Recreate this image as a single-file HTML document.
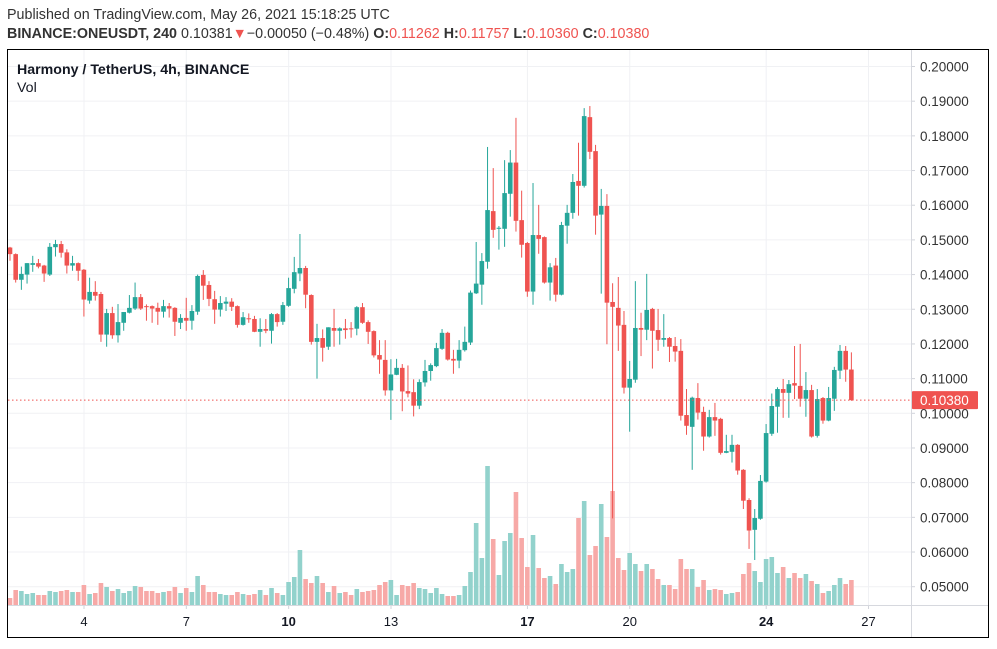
<!DOCTYPE html>
<html><head><meta charset="utf-8"><style>
body{margin:0;background:#fff;width:997px;height:644px;overflow:hidden;font-family:"Liberation Sans",sans-serif}
svg text{font-family:"Liberation Sans",sans-serif}
</style></head><body>
<svg id="c" width="997" height="644" xmlns="http://www.w3.org/2000/svg">
<text x="7" y="19" font-size="14.3" fill="#333">Published on TradingView.com, May 26, 2021 15:18:25 UTC</text>
<text x="7" y="38" font-size="14.3" fill="#333"><tspan font-weight="bold">BINANCE:ONEUSDT, 240</tspan> 0.10381<tspan fill="#ef5350">▼</tspan>−0.00050 (−0.48%) <tspan font-weight="bold">O:</tspan><tspan fill="#ef5350">0.11262</tspan> <tspan font-weight="bold">H:</tspan><tspan fill="#ef5350">0.11757</tspan> <tspan font-weight="bold">L:</tspan><tspan fill="#ef5350">0.10360</tspan> <tspan font-weight="bold">C:</tspan><tspan fill="#ef5350">0.10380</tspan></text>
<g id="grid"></g><g id="vol"></g><g id="candles"></g><g id="axes"></g>
<rect x="7.5" y="49.5" width="981" height="588" fill="none" stroke="#000" stroke-width="1"/>
<text x="17" y="74" font-size="14.2" font-weight="bold" fill="#131722">Harmony / TetherUS, 4h, BINANCE</text>
<text x="17" y="92" font-size="14.2" fill="#131722">Vol</text>
</svg>
<script>
const opens=[.1478,.1459,.1385,.1400,.1428,.1433,.1426,.1400,.1479,.1488,.1464,.1426,.1433,.1414,.1325,.1350,.1344,.1227,.1289,.1225,.1261,.1290,.1302,.1335,.1309,.1309,.1304,.1293,.1309,.1304,.1261,.1275,.1267,.1293,.1399,.1370,.1329,.1299,.1316,.1322,.1309,.1255,.1274,.1272,.1235,.1243,.1238,.1286,.1264,.1310,.1359,.1403,.1419,.1341,.1206,.1217,.1192,.1246,.1238,.1245,.1245,.1244,.1306,.1263,.1237,.1168,.1154,.1066,.1111,.1131,.1064,.1061,.1022,.1089,.1122,.1136,.1186,.1232,.1157,.1152,.1182,.1204,.1346,.1371,.1437,.1583,.1532,.1532,.1633,.1723,.1557,.1491,.1351,.1514,.1508,.1377,.1426,.1342,.1541,.1578,.1670,.1656,.1854,.1756,.1573,.1598,.1321,.1304,.1255,.1074,.1097,.1246,.1241,.1301,.1240,.1212,.1217,.1194,.1180,.0995,.0961,.1044,.1004,.0933,.0989,.0984,.0886,.0889,.0909,.0837,.0750,.0664,.0696,.0803,.0941,.1019,.1070,.1059,.1087,.1079,.1042,.1067,.0935,.1044,.0979,.1042,.1123,.1180,.11262];
const highs=[.1480,.1461,.1423,.1433,.1454,.1445,.1428,.1491,.1500,.1497,.1473,.1454,.1435,.1416,.1391,.1381,.1350,.1301,.1307,.1315,.1292,.1341,.1377,.1344,.1314,.1311,.1319,.1327,.1318,.1306,.1286,.1333,.1312,.1400,.1413,.1381,.1353,.1338,.1335,.1332,.1311,.1292,.1288,.1281,.1274,.1272,.1289,.1289,.1321,.1391,.1451,.1517,.1425,.1343,.1258,.1242,.1248,.1301,.1248,.1272,.1263,.1309,.1318,.1268,.1239,.1211,.1211,.1156,.1157,.1142,.1138,.1098,.1098,.1154,.1144,.1203,.1243,.1235,.1183,.1211,.1250,.1354,.1494,.1462,.1768,.1707,.1540,.1730,.1759,.1852,.1642,.1494,.1664,.1601,.1510,.1433,.1448,.1552,.1601,.1690,.1780,.1880,.1886,.1774,.1647,.1632,.1375,.1393,.1295,.1151,.1381,.1290,.1402,.1304,.1301,.1286,.1220,.1220,.1214,.1070,.1048,.1087,.1019,.1010,.1030,.0987,.0938,.0938,.0911,.0839,.0755,.0724,.0822,.0969,.1057,.1075,.1099,.1096,.1194,.1200,.1119,.1082,.1070,.1047,.1076,.1134,.1197,.1194,.11757];
const lows=[.1440,.1377,.1356,.1374,.1408,.1418,.1379,.1396,.1452,.1449,.1403,.1411,.1382,.1279,.1316,.1325,.1206,.1192,.1215,.1204,.1238,.1288,.1298,.1298,.1267,.1261,.1255,.1276,.1276,.1223,.1243,.1238,.1241,.1284,.1327,.1309,.1258,.1279,.1295,.1295,.1247,.1253,.1261,.1234,.1192,.1231,.1201,.1250,.1255,.1307,.1346,.1381,.1303,.1198,.1100,.1149,.1183,.1192,.1198,.1215,.1218,.1225,.1258,.1200,.1161,.1114,.1051,.0981,.1110,.1006,.1046,.0991,.1012,.1077,.1094,.1133,.1183,.1152,.1114,.1130,.1178,.1197,.1344,.1313,.1417,.1506,.1472,.1480,.1567,.1524,.1449,.1336,.1313,.1460,.1374,.1325,.1322,.1340,.1489,.1561,.1570,.1651,.1733,.1515,.1345,.1199,.0697,.1180,.1057,.0947,.1088,.1165,.1211,.1129,.1180,.1192,.1148,.1149,.0979,.0938,.0837,.0982,.0892,.0930,.0935,.0881,.0885,.0858,.0823,.0724,.0609,.0577,.0693,.0800,.0935,.0944,.0987,.0987,.1041,.1019,.0990,.0930,.0930,.0970,.0977,.1007,.1099,.1091,.10360];
const closes=[.1459,.1385,.1402,.1433,.1433,.1423,.1403,.1480,.1488,.1463,.1426,.1433,.1411,.1328,.1350,.1339,.1227,.1289,.1225,.1263,.1292,.1304,.1335,.1302,.1306,.1302,.1293,.1309,.1302,.1264,.1275,.1267,.1295,.1396,.1368,.1330,.1299,.1318,.1322,.1307,.1255,.1277,.1272,.1235,.1243,.1238,.1286,.1263,.1312,.1361,.1407,.1419,.1342,.1206,.1217,.1189,.1248,.1238,.1245,.1240,.1244,.1306,.1261,.1235,.1167,.1155,.1066,.1112,.1131,.1063,.1057,.1022,.1090,.1122,.1139,.1188,.1232,.1155,.1152,.1183,.1206,.1348,.1374,.1439,.1586,.1529,.1535,.1635,.1723,.1555,.1486,.1351,.1514,.1503,.1377,.1421,.1342,.1543,.1578,.1667,.1656,.1857,.1754,.1570,.1598,.1319,.1307,.1253,.1074,.1099,.1246,.1241,.1298,.1238,.1212,.1217,.1192,.1178,.0993,.0964,.1045,.1002,.0933,.0989,.0979,.0886,.0891,.0909,.0835,.0748,.0662,.0698,.0805,.0943,.1021,.1070,.1059,.1084,.1080,.1042,.1067,.0933,.1041,.0979,.1044,.1125,.1180,.1126,.10380];
const volumes=[7,15,14,11,12,10,10,14,13,14,15,13,13,20,11,12,22,18,14,16,12,14,19,18,14,14,12,13,14,18,12,17,13,29,20,13,13,11,10,10,13,11,10,11,15,10,17,12,10,23,28,55,26,22,29,22,13,19,12,13,10,16,13,14,15,20,23,25,10,20,19,22,17,16,12,17,11,9,9,10,19,33,82,47,139,66,30,64,72,113,67,38,70,37,27,29,21,41,33,36,87,104,50,59,101,68,114,47,35,52,41,34,41,36,26,20,20,16,46,36,36,18,25,15,16,15,11,12,13,31,42,34,23,46,48,32,38,27,32,27,31,24,21,12,14,20,27,21,25];
const priceTicks=[0.05,0.06,0.07,0.08,0.09,0.10,0.11,0.12,0.13,0.14,0.15,0.16,0.17,0.18,0.19,0.20];
const dayLabels=["4","7","10","13","17","20","24","27"];
const dayValues=[4,7,10,13,17,20,24,27];
const boldDays=["10","17","24"];
const lastPrice=0.10380;

const NS="http://www.w3.org/2000/svg";
const yP=p=>66.5+(0.2-p)*3468;
const xI=i=>10+i*5.685;
const xDay=d=>84+(d-4)*34.11;
const yV=v=>605-v*(139/139);
function mk(tag,attrs,parent){const e=document.createElementNS(NS,tag);for(const k in attrs)e.setAttribute(k,attrs[k]);parent.appendChild(e);return e;}
const grid=document.getElementById('grid'),vol=document.getElementById('vol'),cg=document.getElementById('candles'),ax=document.getElementById('axes');
priceTicks.forEach(p=>{
  const l=mk('line',{x1:8,x2:911,y1:yP(p),y2:yP(p),stroke:'#f0f1f4','stroke-width':1},grid);
  
  
  const t=mk('text',{x:920,y:yP(p)+5,'font-size':13.5,fill:'#333'},ax);
  
  
  t.textContent=p.toFixed(5);
  const tk=mk('line',{x1:911,x2:915,y1:yP(p),y2:yP(p),stroke:'#d0d3da'},ax);
  
  
});
dayValues.forEach((d,k)=>{
  const x=xDay(d);
  const l=mk('line',{x1:x,x2:x,y1:50,y2:605,stroke:'#f0f1f4','stroke-width':1},grid);
  
  
  const t=mk('text',{x:x,y:626,'font-size':13,fill:'#131722','text-anchor':'middle','font-weight':boldDays.includes(dayLabels[k])?'bold':'normal'},ax);
  
  
  t.textContent=dayLabels[k];
  const tk=mk('line',{x1:x,x2:x,y1:605,y2:609,stroke:'#d0d3da'},ax);
  
  
});
let s=mk('line',{x1:911.5,x2:911.5,y1:50,y2:637,stroke:'#d6d8de'},ax);


s=mk('line',{x1:8,x2:988,y1:605.5,y2:605.5,stroke:'#d6d8de'},ax);


volumes.forEach((v,i)=>{
  const up=closes[i]>=opens[i];
  const r=mk('rect',{x:xI(i)-2.3,y:yV(v),width:4.6,height:605-yV(v),fill:up?'#92d2cc':'#f7a9a7'},vol);
  
  
});
opens.forEach((o,i)=>{
  const c=closes[i],up=c>=o,col=up?'#26a69a':'#ef5350',x=xI(i);
  const w=mk('line',{x1:x,x2:x,y1:yP(highs[i]),y2:yP(lows[i]),stroke:col,'stroke-width':1},cg);
  
  
  const t=yP(Math.max(o,c)),b=yP(Math.min(o,c));
  const r=mk('rect',{x:x-2.3,y:t,width:4.6,height:Math.max(1,b-t),fill:col},cg);
  
  
});
const ly=yP(lastPrice);
let ln=mk('line',{x1:8,x2:911,y1:ly,y2:ly,stroke:'#ef5350','stroke-width':1,'stroke-dasharray':'1.5,2.5'},ax);


let bx=mk('rect',{x:912,y:ly-9,width:66,height:18,fill:'#ef5350',rx:1},ax);


let bt=mk('text',{x:920,y:ly+5,'font-size':13.5,fill:'#fff'},ax);


bt.textContent=lastPrice.toFixed(5);
</script>
</body></html>
